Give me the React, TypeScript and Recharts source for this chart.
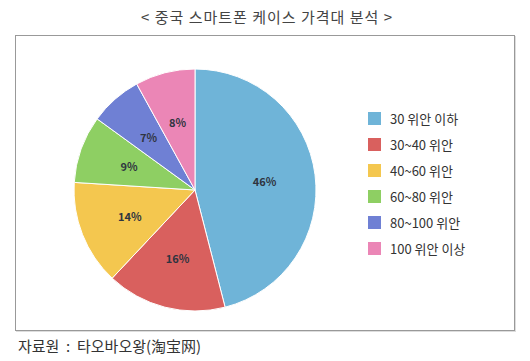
import { Cell, Pie, PieChart } from "recharts";

const categories = [
  "30 위안 이하",
  "30~40 위안",
  "40~60 위안",
  "60~80 위안",
  "80~100 위안",
  "100 위안 이상",
];
const shares = [46, 16, 14, 9, 7, 8];
const colors = ["#6fb4d8", "#d9605e", "#f4c74f", "#8ecf63", "#6f80d4", "#eb86b6"];

const data = categories.map((name, i) => ({ name, value: shares[i] }));

const FONT = '"Noto Sans CJK KR", "Noto Sans", sans-serif';
const RAD = Math.PI / 180;

function SliceLabel(props: any) {
  const { cx, cy, midAngle, outerRadius, value } = props;
  const r = outerRadius * 0.58;
  const x = cx + r * Math.cos(-midAngle * RAD);
  const y = cy + r * Math.sin(-midAngle * RAD);
  return (
    <text
      x={x}
      y={y}
      textAnchor="middle"
      dominantBaseline="central"
      fontSize={11}
      fontWeight={700}
      fill="#2f3440"
      fontFamily={FONT}
    >
      {value}%
    </text>
  );
}

// legend drawn as plain html so it doesn't eat into the chart area
function LegendList() {
  return (
    <div style={{ position: "absolute", left: 368, top: 105, fontFamily: FONT }}>
      {data.map((d, i) => (
        <div
          key={d.name}
          style={{ display: "flex", alignItems: "center", height: 26 }}
        >
          <span
            style={{
              width: 13,
              height: 13,
              background: colors[i],
              marginRight: 9,
              display: "inline-block",
            }}
          />
          <span style={{ fontSize: 13, color: "#333" }}>{d.name}</span>
        </div>
      ))}
    </div>
  );
}

export default function App() {
  return (
    <div
      style={{
        position: "absolute",
        left: 0,
        top: 0,
        width: 530,
        height: 361,
        background: "#fff",
        fontFamily: FONT,
      }}
    >
      <div
        style={{
          position: "absolute",
          top: 6,
          left: 0,
          width: 534,
          textAlign: "center",
          fontSize: 15,
          color: "#444",
          letterSpacing: 1,
        }}
      >
        &lt; 중국 스마트폰 케이스 가격대 분석 &gt;
      </div>
      <div
        style={{
          position: "absolute",
          left: 15,
          top: 35,
          width: 498,
          height: 294,
          border: "1px solid #999",
          boxShadow: "1px 1px 0 #ddd",
        }}
      />
      <div style={{ position: "absolute", left: 0, top: 0 }}>
        <PieChart
          width={530}
          height={361}
          margin={{ top: 0, right: 0, bottom: 0, left: 0 }}
        >
          <Pie
            data={data}
            dataKey="value"
            nameKey="name"
            cx={195}
            cy={190}
            outerRadius={121}
            startAngle={90}
            endAngle={-270}
            stroke="#fff"
            strokeWidth={1}
            label={SliceLabel}
            labelLine={false}
            isAnimationActive={false}
          >
            {data.map((d, i) => (
              <Cell key={d.name} fill={colors[i]} />
            ))}
          </Pie>
        </PieChart>
      </div>
      <LegendList />
      <div
        style={{
          position: "absolute",
          left: 18,
          top: 335,
          fontSize: 15,
          color: "#333",
          whiteSpace: "pre",
        }}
      >
        자료원  :  타오바오왕(淘宝网)
      </div>
    </div>
  );
}
